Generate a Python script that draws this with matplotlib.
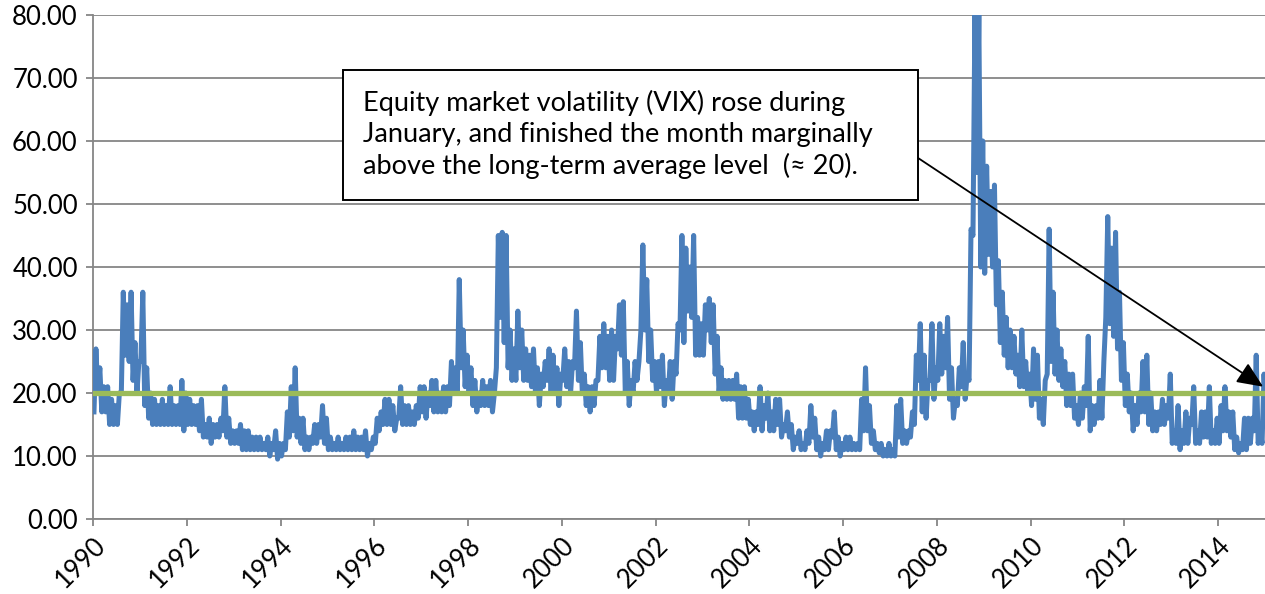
import numpy as np
import matplotlib
matplotlib.use('Agg')
import matplotlib.pyplot as plt
from matplotlib.patches import Rectangle

plt.rcParams['font.family'] = ['Lato', 'DejaVu Sans']

# monthly VIX ranges (low, high), Jan 1990 .. Jan 2015
vix_low = [
    17, 20, 17, 17, 15, 15, 15, 20, 26, 25, 22, 20,   # 1990
    25, 18, 16, 15, 15, 15, 15, 15, 15, 15, 15, 14,   # 1991
    15, 15, 15, 14, 13, 13, 12, 13, 13, 14, 13, 12,   # 1992
    12, 12, 11, 11, 11, 11, 11, 11, 11, 10, 11, 9.5,  # 1993
    10, 11, 13, 14, 13, 12, 11, 11, 12, 12, 13, 12,   # 1994
    11, 11, 11, 11, 11, 11, 11, 11, 11, 11, 10, 11,   # 1995
    12, 14, 15, 15, 15, 14, 16, 15, 15, 15, 15, 16,   # 1996
    17, 16, 18, 17, 17, 17, 17, 18, 20, 20, 24, 21,   # 1997
    20, 18, 17, 18, 18, 18, 17, 24, 32, 28, 24, 22,   # 1998
    22, 24, 22, 22, 21, 20, 18, 21, 22, 20, 20, 18,   # 1999
    22, 21, 20, 24, 22, 20, 18, 17, 18, 22, 24, 24,   # 2000
    22, 22, 27, 26, 20, 18, 20, 22, 30, 30, 25, 22,   # 2001
    20, 21, 18, 20, 19, 23, 30, 28, 33, 32, 26, 26,   # 2002
    26, 30, 28, 23, 20, 19, 19, 19, 19, 16, 16, 16,   # 2003
    15, 14, 15, 14, 16, 14, 14, 15, 13, 14, 13, 11,   # 2004
    12, 11, 11, 12, 13, 11, 10, 11, 11, 13, 11, 10,   # 2005
    11, 11, 11, 11, 11, 14, 14, 12, 11, 10.5, 10, 10, # 2006
    10, 10, 13, 12, 12, 13, 15, 22, 17, 16, 22, 19,   # 2007
    22, 23, 24, 19, 16, 18, 21, 19, 22, 45, 55, 40,   # 2008
    39, 42, 40, 34, 28, 26, 24, 24, 23, 21, 21, 20,   # 2009
    18, 19, 16, 15, 23, 25, 23, 22, 21, 18, 18, 16,   # 2010
    15, 16, 18, 14, 15, 16, 16, 32, 31, 29, 27, 22,   # 2011
    18, 17, 14, 15, 17, 17, 15, 14, 14, 15, 15, 16,   # 2012
    12, 12, 11, 12, 12, 15, 12, 12, 13, 13, 12, 12,   # 2013
    12, 14, 14, 13, 11, 10.5, 11, 11, 12, 14, 12, 12, # 2014
    17,                                               # 2015
]
vix_high = [
    27, 24, 21, 21, 19, 18, 20, 36, 34, 36, 28, 25,   # 1990
    36, 24, 20, 19, 18, 19, 18, 21, 18, 18, 22, 20,   # 1991
    19, 18, 18, 19, 15, 16, 15, 15, 16, 21, 16, 14,   # 1992
    14, 15, 14, 14, 13, 13, 13, 12, 13, 12, 14, 12,   # 1993
    12, 17, 21, 24, 16, 16, 13, 13, 15, 15, 18, 16,   # 1994
    13, 12, 13, 12, 13, 13, 14, 13, 13, 14, 12, 13,   # 1995
    16, 17, 19, 19, 18, 16, 21, 18, 18, 17, 18, 21,   # 1996
    21, 20, 22, 22, 20, 21, 21, 25, 24, 38, 30, 26,   # 1997
    24, 22, 20, 22, 21, 22, 20, 45, 45.5, 45, 30, 27, # 1998
    33, 30, 27, 26, 27, 24, 23, 25, 27, 26, 24, 23,   # 1999
    27, 25, 25, 33, 28, 23, 21, 21, 22, 29, 31, 29,   # 2000
    30, 29, 34, 34.5, 25, 22, 25, 25, 43.5, 38, 30, 25, # 2001
    25, 26, 22, 25, 25, 31, 45, 43, 40, 45, 32, 31,   # 2002
    34, 35, 34, 29, 24, 22, 22, 22, 23, 21, 21, 19,   # 2003
    17, 17, 21, 18, 20, 17, 19, 19, 15, 17, 15, 13,   # 2004
    14, 12, 14, 18, 16, 13, 12, 14, 14, 17, 13, 12,   # 2005
    13, 13, 12, 12, 19, 24, 18, 14, 12, 12, 11, 12,   # 2006
    11, 18, 19, 14, 14, 17, 26, 31, 26, 22, 31, 24,   # 2007
    31, 29, 32, 24, 19, 24, 28, 23, 46, 80, 80, 60,   # 2008
    56, 52, 53, 41, 36, 32, 30, 29, 26, 30, 25, 23,   # 2009
    27, 26, 19, 22, 46, 36, 30, 27, 25, 23, 23, 18,   # 2010
    20, 21, 29, 18, 18, 22, 25, 48, 43, 45.5, 36, 28, # 2011
    23, 20, 18, 20, 25, 26, 20, 17, 17, 19, 18, 23,   # 2012
    14, 18, 14, 17, 16, 21, 14, 17, 17, 21, 14, 16,   # 2013
    18, 21, 17, 17, 13, 12, 16, 16, 16, 26, 14, 23,   # 2014
    23,                                               # 2015
]
long_term_avg = 20
year_ticks = list(range(1990, 2015, 2))
note = ("Equity market volatility (VIX) rose during\n"
        "January, and finished the month marginally\n"
        "above the long-term average level  (\u2248 20).")

# two points per month: low then high
t, v = [], []
for i, (lo, hi) in enumerate(zip(vix_low, vix_high)):
    t += [1990 + (i + 0.25) / 12, 1990 + (i + 0.75) / 12]
    v += [lo, hi]
t = np.array(t)
v = np.array(v)

fig = plt.figure(figsize=(12.65, 5.94), dpi=100)
ax = fig.add_axes([93 / 1265, 75 / 594, 1 - 93 / 1265, 504 / 594])

ax.plot(t, v, color='#4A7EBB', lw=3.6, solid_joinstyle='round', zorder=3)
ax.axhline(long_term_avg, color='#9BBB59', lw=3.8, zorder=4)

ax.set_xlim(1990, 2015)
ax.set_ylim(0, 80)
ax.set_yticks(np.arange(0, 81, 10))
ax.set_yticklabels([f"{y:.2f}" for y in range(0, 81, 10)])
ax.set_xticks(year_ticks)
ax.set_xticklabels([str(y) for y in year_ticks], rotation=45, ha='right',
                   rotation_mode='anchor')
ax.tick_params(axis='both', labelsize=18.5, color='#868686', length=5, width=1.3)
ax.tick_params(axis='x', pad=5)
ax.tick_params(axis='y', pad=6)
ax.grid(axis='y', color='#868686', lw=1.3, zorder=1)
ax.set_axisbelow(True)
for s in ['top', 'right']:
    ax.spines[s].set_visible(False)
for s in ['left', 'bottom']:
    ax.spines[s].set_color('#868686')
    ax.spines[s].set_linewidth(1.3)

# annotation box and arrow
ax.add_patch(Rectangle((1995.33, 50.6), 12.27, 20.67, fill=True, facecolor='white',
                       edgecolor='black', lw=1.4, zorder=6))
ax.text(1995.75, 61.0, note, fontsize=19.5, va='center', ha='left',
        linespacing=1.3, zorder=7)
ax.annotate('', xy=(2014.96, 21.0), xytext=(2007.6, 57.3),
            arrowprops=dict(arrowstyle='-|>,head_length=1.6,head_width=0.7',
                            color='black', lw=1.3, shrinkA=0, shrinkB=0),
            zorder=8)

fig.savefig('out.png', dpi=100)
